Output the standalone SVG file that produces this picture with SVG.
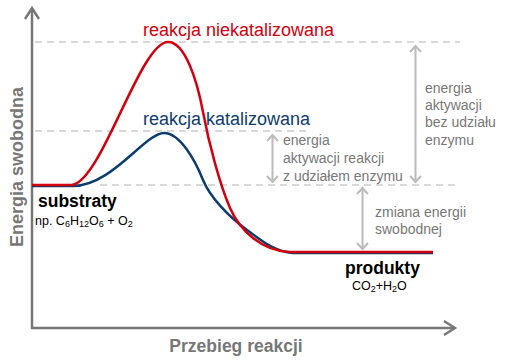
<svg xmlns="http://www.w3.org/2000/svg" width="505" height="360" viewBox="0 0 505 360">
<defs>
<style>
.axis{stroke:#777;stroke-width:2.5;fill:none}
.dash{stroke:#ccc;stroke-width:1.5;stroke-dasharray:7,5;fill:none}
.garr{stroke:#bbb;stroke-width:2;fill:none}
.lbl{font-family:"Liberation Sans",Arial,sans-serif;font-size:14px;fill:#777}
.big{font-family:"Liberation Sans",Arial,sans-serif;font-size:17.5px;font-weight:bold}
.small{font-family:"Liberation Sans",Arial,sans-serif;font-size:12.5px;fill:#000}
.title{font-family:"Liberation Sans",Arial,sans-serif;font-size:18px}
</style>
</defs>
<rect width="505" height="360" fill="#fff"/>
<g id="guides">
<line class="dash" x1="35" y1="42" x2="460" y2="42"/>
<line class="dash" x1="35" y1="131" x2="310" y2="131"/>
<line class="dash" x1="100" y1="185" x2="460" y2="185"/>
</g>
<g id="axes">
<path class="axis" d="M32,8 L32,328 L455,328"/>
<path class="axis" d="M25,19 L32,8 L39,19"/>
<path class="axis" d="M444,321 L455,328 L444,335"/>
<text x="236" y="352" text-anchor="middle" style="font-family:'Liberation Sans',Arial,sans-serif;font-size:17.5px;font-weight:bold;fill:#777">Przebieg reakcji</text>
<text transform="translate(23,167) rotate(-90)" text-anchor="middle" style="font-family:'Liberation Sans',Arial,sans-serif;font-size:18px;font-weight:bold;fill:#777">Energia swobodna</text>
</g>
<g id="connectors">
<path d="M32,186 L73,186 C112,186 145,133 164,133 C180,133 195,160 203,180 C210,197 228,216 247,230 C262,241 275,252 293,253 L433,253" fill="none" stroke="#0d3c6e" stroke-width="2.5"/>
<path d="M32,185 L72,185 C102,181 140,42 168,42 C185,42 197,80 203,112 C209,144 220,185 230,208 C240,231 262,251 290,252 L433,252" fill="none" stroke="#d2000f" stroke-width="2.5"/>
<g id="arrow-bez">
<line class="garr" x1="415.5" y1="46" x2="415.5" y2="182"/>
<path class="garr" d="M410,52 L415.5,46 L421,52 M410,176 L415.5,182 L421,176"/>
</g>
<g id="arrow-z">
<line class="garr" x1="272.5" y1="135" x2="272.5" y2="182"/>
<path class="garr" d="M267,141 L272.5,135 L278,141 M267,176 L272.5,182 L278,176"/>
</g>
<g id="arrow-zmiana">
<line class="garr" x1="362.5" y1="188" x2="362.5" y2="249"/>
<path class="garr" d="M357,194 L362.5,188 L368,194 M357,243 L362.5,249 L368,243"/>
</g>
</g>
<g id="label-niekat"><text class="title" x="143" y="36" fill="#d2000f">reakcja niekatalizowana</text></g>
<g id="label-kat"><text class="title" x="143" y="125" fill="#0d3c6e">reakcja katalizowana</text></g>
<g id="label-bez">
<text class="lbl" x="425" y="93">energia</text>
<text class="lbl" x="425" y="110">aktywacji</text>
<text class="lbl" x="425" y="127">bez udziału</text>
<text class="lbl" x="425" y="145">enzymu</text>
</g>
<g id="label-z">
<text class="lbl" x="283" y="145">energia</text>
<text class="lbl" x="283" y="163">aktywacji reakcji</text>
<text class="lbl" x="283" y="181">z udziałem enzymu</text>
</g>
<g id="label-zmiana">
<text class="lbl" x="375" y="217">zmiana energii</text>
<text class="lbl" x="375" y="234">swobodnej</text>
</g>
<g id="substraty">
<text class="big" x="38" y="207">substraty</text>
<text class="small" x="35" y="225">np.  C<tspan font-size="9" dy="2">6</tspan><tspan dy="-2">H</tspan><tspan font-size="9" dy="2">12</tspan><tspan dy="-2">O</tspan><tspan font-size="9" dy="2">6</tspan><tspan dy="-2"> + O</tspan><tspan font-size="9" dy="2">2</tspan></text>
</g>
<g id="produkty">
<text class="big" x="345" y="274">produkty</text>
<text class="small" x="352" y="290">CO<tspan font-size="9" dy="2">2</tspan><tspan dy="-2">+H</tspan><tspan font-size="9" dy="2">2</tspan><tspan dy="-2">O</tspan></text>
</g>
</svg>
